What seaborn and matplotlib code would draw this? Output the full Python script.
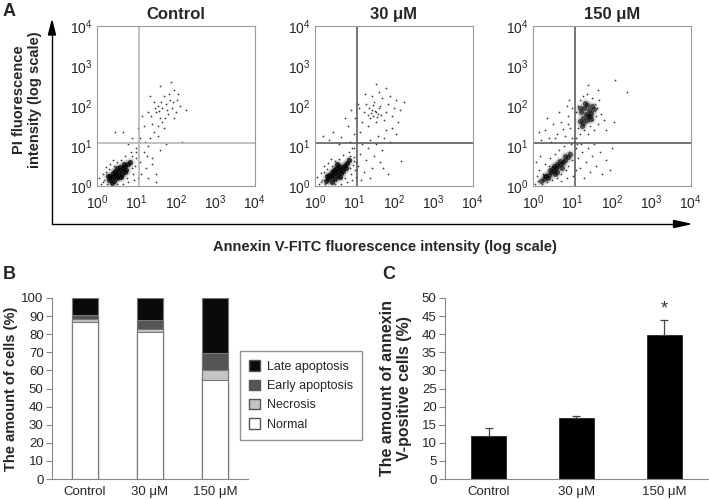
import numpy as np
import pandas as pd
import seaborn as sns
import matplotlib.pyplot as plt
from matplotlib.patches import Patch

sns.set_style("white")
plt.rcParams['font.family'] = ['Liberation Sans', 'DejaVu Sans']
plt.rcParams['mathtext.default'] = 'regular'

# ---- panel A: flow cytometry dots, log10 coordinates ----
# quadrant gate position (log10)
gate = 1.07

ctrl_core_x = [0.30, 0.36, 0.42, 0.48, 0.54, 0.60, 0.66, 0.72, 0.78, 0.40, 0.46, 0.52, 0.58,
               0.64, 0.70, 0.34, 0.50, 0.56, 0.62, 0.44, 0.38, 0.68, 0.74, 0.28, 0.84]
ctrl_core_y = [0.14, 0.20, 0.24, 0.30, 0.34, 0.40, 0.44, 0.50, 0.54, 0.32, 0.38, 0.44, 0.48,
               0.30, 0.36, 0.26, 0.20, 0.26, 0.22, 0.12, 0.08, 0.56, 0.40, 0.24, 0.60]
ctrl_dots_x = [0.10, 0.16, 0.22, 0.26, 0.34, 0.92, 0.96, 1.00, 0.86, 0.70, 0.60, 0.30, 0.18, 1.04,
               0.95, 0.80, 0.65, 0.06, 0.40, 0.76, 1.00, 0.90, 0.14, 0.24, 0.50, 0.88, 0.52, 0.44,
               1.10, 1.20, 1.30, 1.25, 1.40, 1.50, 1.35, 1.45, 1.55, 1.60, 1.50, 1.65, 1.75, 1.85,
               1.90, 1.80, 1.70, 1.95, 2.05, 1.45, 1.30, 1.20, 1.15, 1.55, 1.70, 1.95, 2.10, 2.25,
               2.15, 1.60, 1.75, 1.40, 1.10, 1.05, 1.35, 1.60, 1.88, 0.90, 0.65, 0.45, 0.80, 1.00,
               1.50, 1.30, 1.55, 1.78, 1.92, 1.65, 1.40, 2.00, 1.48, 1.58, 1.82, 1.12, 1.22, 1.62,
               2.02, 1.72, 1.38, 1.28]
ctrl_dots_y = [0.04, 0.30, 0.48, 0.04, 0.56, 0.30, 0.50, 0.70, 0.84, 0.74, 0.66, 0.42, 0.14, 0.20,
               0.14, 0.10, 0.04, 0.20, 0.66, 0.20, 0.94, 0.74, 0.10, 0.36, 0.60, 0.45, 0.06, 0.50,
               0.60, 0.85, 1.00, 0.45, 0.70, 0.30, 1.20, 1.35, 1.50, 1.70, 1.85, 1.95, 2.05, 2.15,
               1.95, 1.80, 2.25, 2.40, 2.30, 2.10, 1.85, 1.50, 1.75, 1.25, 1.45, 1.70, 2.00, 1.90,
               1.10, 0.90, 1.05, 0.55, 1.20, 1.45, 2.25, 2.50, 2.60, 1.20, 1.35, 1.35, 1.05, 0.85,
               0.10, 0.20, 2.00, 1.90, 2.10, 1.60, 1.55, 1.85, 1.95, 1.88, 2.30, 0.30, 1.10, 2.10,
               2.15, 1.70, 1.75, 0.75]

mid_core_x = [0.28, 0.34, 0.40, 0.46, 0.52, 0.58, 0.64, 0.70, 0.76, 0.82, 0.42, 0.48, 0.54,
              0.60, 0.66, 0.72, 0.36, 0.50, 0.58, 0.64, 0.44, 0.30, 0.78, 0.86, 0.56]
mid_core_y = [0.12, 0.18, 0.22, 0.28, 0.32, 0.38, 0.42, 0.48, 0.52, 0.58, 0.34, 0.40, 0.46,
              0.50, 0.32, 0.38, 0.28, 0.18, 0.24, 0.22, 0.10, 0.24, 0.44, 0.64, 0.54]
mid_dots_x = [0.10, 0.16, 0.22, 0.26, 0.34, 0.92, 0.96, 1.00, 0.86, 0.70, 0.60, 0.30, 0.18, 1.04,
              0.95, 0.80, 0.65, 0.06, 0.40, 0.76, 1.00, 0.90, 0.14, 0.24, 0.50, 0.88, 0.52, 0.44,
              0.98, 0.84, 1.02,
              1.10, 1.15, 1.20, 1.25, 1.30, 1.35, 1.40, 1.45, 1.50, 1.55, 1.60, 1.65, 1.70, 1.75,
              1.80, 1.85, 1.15, 1.20, 1.25, 1.30, 1.35, 1.40, 1.45, 1.50, 1.55, 1.60, 1.65, 1.70,
              1.75, 1.80, 1.85, 1.90, 1.95, 2.00, 2.05, 2.10, 2.15, 2.25, 1.42, 1.48, 1.52, 1.58,
              1.62, 1.38, 1.46, 1.56, 1.34, 1.68, 1.44, 1.62, 1.80, 1.55, 1.28, 1.12, 1.08, 1.95,
              2.05, 1.90, 1.72, 2.18, 1.40, 1.18, 0.20, 0.45, 0.65, 0.85, 0.92, 0.60, 0.75, 0.35,
              1.00, 1.02, 0.95, 0.88, 1.05]
mid_dots_y = [0.05, 0.32, 0.50, 0.04, 0.58, 0.30, 0.52, 0.72, 0.86, 0.78, 0.68, 0.42, 0.14, 0.22,
              0.14, 0.10, 0.04, 0.22, 0.68, 0.20, 0.96, 0.76, 0.10, 0.36, 0.62, 0.46, 0.06, 0.50,
              0.62, 0.70, 0.40,
              0.50, 0.80, 1.05, 0.35, 0.65, 0.95, 1.15, 0.45, 0.75, 1.05, 1.25, 0.60, 0.90, 1.20,
              1.40, 0.30, 1.35, 1.60, 1.85, 2.05, 1.50, 1.70, 1.90, 2.10, 1.60, 1.80, 2.00, 2.20,
              1.65, 1.85, 2.05, 2.25, 1.75, 1.95, 2.15, 1.60, 1.90, 2.10, 1.82, 1.76, 1.88, 1.72,
              1.94, 1.96, 2.02, 1.84, 1.78, 1.78, 2.25, 2.35, 2.45, 2.55, 2.30, 1.95, 2.05, 1.45,
              1.30, 1.10, 0.45, 0.62, 0.20, 0.15, 1.25, 1.35, 1.22, 1.50, 1.90, 1.05, 1.70, 1.15,
              1.30, 1.70, 0.95, 1.10, 0.60]

high_core_x = [0.20, 0.28, 0.34, 0.40, 0.46, 0.52, 0.58, 0.64, 0.70, 0.76, 0.82, 0.88, 0.94,
               0.44, 0.50, 0.56, 0.62, 0.68, 0.74, 0.38, 0.60, 0.30, 0.54, 0.80,
               1.18, 1.26, 1.34, 1.42, 1.50, 1.22, 1.30, 1.38, 1.46, 1.54, 1.28, 1.36, 1.44,
               1.20, 1.32, 1.40, 1.48, 1.24]
high_core_y = [0.12, 0.18, 0.24, 0.28, 0.34, 0.38, 0.44, 0.50, 0.54, 0.60, 0.66, 0.72, 0.80,
               0.40, 0.46, 0.30, 0.36, 0.62, 0.46, 0.20, 0.56, 0.26, 0.50, 0.74,
               1.62, 1.70, 1.80, 1.90, 2.00, 1.84, 1.94, 2.02, 1.82, 1.92, 1.58, 1.66, 1.74,
               1.96, 2.08, 1.76, 1.68, 1.50]
high_dots_x = [0.05, 0.10, 0.15, 0.22, 0.30, 0.35, 0.42, 0.48, 0.55, 0.60, 0.66, 0.72, 0.78, 0.84,
               0.90, 0.96, 1.00, 1.02, 0.08, 0.18, 0.26, 0.52, 0.64, 0.86, 0.70, 0.92, 0.40, 0.12,
               0.20, 0.30, 0.40, 0.50, 0.60, 0.70, 0.80, 0.90, 0.95, 0.65, 0.85, 1.00, 0.45, 0.75,
               0.55, 0.98, 0.15, 0.35, 0.88, 0.92,
               1.10, 1.15, 1.20, 1.25, 1.30, 1.35, 1.40, 1.45, 1.50, 1.55, 1.60, 1.65, 1.10, 1.15,
               1.20, 1.28, 1.38, 1.50, 1.58, 1.62, 1.68, 1.72, 1.80, 1.85, 1.10, 1.15, 1.20, 1.25,
               1.30, 1.35, 1.40, 1.45, 1.50, 1.55, 1.60, 1.70, 1.75, 1.85, 1.95, 2.00, 1.08, 1.12,
               1.22, 1.65, 2.05, 2.38, 2.09, 1.40]
high_dots_y = [0.05, 0.25, 0.40, 0.05, 0.55, 0.10, 0.70, 0.15, 0.80, 0.20, 0.90, 0.30, 1.00, 0.40,
               0.50, 1.05, 0.65, 0.25, 0.60, 0.75, 0.30, 0.28, 0.66, 0.20, 0.12, 0.85, 0.50, 0.12,
               1.15, 1.40, 1.20, 1.55, 1.30, 1.60, 1.25, 1.75, 1.45, 1.85, 2.00, 1.95, 1.10, 1.42,
               1.20, 1.20, 1.35, 1.70, 1.55, 2.15,
               1.20, 1.45, 1.30, 1.55, 1.40, 1.60, 1.30, 1.50, 1.65, 1.40, 1.75, 1.55, 1.85, 2.00,
               2.15, 2.25, 2.30, 2.20, 2.05, 1.95, 2.15, 1.80, 1.65, 1.40, 0.95, 0.70, 0.45, 0.85,
               0.20, 0.60, 0.95, 0.35, 0.75, 1.05, 0.50, 0.85, 0.30, 0.65, 0.40, 0.95, 0.40, 1.05,
               1.05, 2.40, 1.60, 2.36, 2.65, 2.52]

panels = ["Control", "30 μM", "150 μM"]
core_x = [ctrl_core_x, mid_core_x, high_core_x]
core_y = [ctrl_core_y, mid_core_y, high_core_y]
dots_x = [ctrl_dots_x, mid_dots_x, high_dots_x]
dots_y = [ctrl_dots_y, mid_dots_y, high_dots_y]
gate_colors = ["#b0b0b0", "#505050", "#505050"]
core_alpha = [0.75, 0.75, 0.6]

# ---- panel B: stacked percentages ----
groups = ["Control", "30 μM", "150 μM"]
normal = [87.0, 81.0, 54.5]
necrosis = [1.2, 2.0, 5.5]
early_apoptosis = [2.6, 5.0, 9.5]
late_apoptosis = [9.2, 12.0, 30.5]

# ---- panel C: annexin V-positive cells ----
annexin_pos = [12.0, 16.8, 39.9]
annexin_err = [2.0, 0.7, 4.0]

fig = plt.figure(figsize=(7.09, 5.0), dpi=100)

scatter_left = [0.1368, 0.4443, 0.7518]
for i, name in enumerate(panels):
    ax = fig.add_axes([scatter_left[i], 0.628, 0.2222, 0.32])
    cx = 10 ** np.array(core_x[i])
    cy = 10 ** np.array(core_y[i])
    # faint halo then dark centre so the dense population reads as a blob
    sns.scatterplot(x=cx, y=cy, ax=ax, s=45, color="#555555", alpha=0.18, linewidth=0,
                    legend=False)
    sns.scatterplot(x=cx, y=cy, ax=ax, s=14, color="black", alpha=core_alpha[i], linewidth=0,
                    legend=False)
    sns.scatterplot(x=10 ** np.array(dots_x[i]), y=10 ** np.array(dots_y[i]), ax=ax,
                    s=1.6, color="#3a3a3a", linewidth=0, legend=False)
    ax.set_xscale("log")
    ax.set_yscale("log")
    ax.set_xlim(1, 1e4)
    ax.set_ylim(1, 1e4)
    ax.set_xticks([1, 10, 100, 1000, 10000])
    ax.set_yticks([1, 10, 100, 1000, 10000])
    ax.axvline(10 ** gate, color=gate_colors[i], lw=1.1)
    ax.axhline(10 ** gate, color=gate_colors[i], lw=1.1)
    for sp in ax.spines.values():
        sp.set_color("#9a9a9a")
        sp.set_linewidth(0.8)
    ax.tick_params(which="both", direction="in", color="#9a9a9a", labelsize=10)
    ax.tick_params(axis="x", pad=5)
    ax.tick_params(axis="y", pad=3)
    ax.tick_params(which="major", length=3)
    ax.tick_params(which="minor", length=1.5)
    ax.set_title(name, fontsize=12, fontweight="bold", pad=5)

fig.text(0.004, 0.995, "A", fontsize=13, fontweight="bold", va="top")
fig.text(0.004, 0.468, "B", fontsize=13, fontweight="bold", va="top")
fig.text(0.539, 0.468, "C", fontsize=13, fontweight="bold", va="top")

# big arrows for panel A axes
fig.add_artist(plt.Line2D([0.0733, 0.0733], [0.552, 0.93], color="black", lw=1))
fig.add_artist(plt.Line2D([0.0733, 0.95], [0.552, 0.552], color="black", lw=1))
fig.patches.append(plt.Polygon([[0.0733, 0.958], [0.0683, 0.93], [0.0783, 0.93]],
                               closed=True, color="black", transform=fig.transFigure, figure=fig))
fig.patches.append(plt.Polygon([[0.973, 0.552], [0.95, 0.545], [0.95, 0.559]],
                               closed=True, color="black", transform=fig.transFigure, figure=fig))
fig.text(0.038, 0.80, "PI fluorescence\nintensity (log scale)", rotation=90, ha="center",
         va="center", fontsize=10.5, fontweight="bold", linespacing=1.2)
fig.text(0.543, 0.506, "Annexin V-FITC fluorescence intensity (log scale)", ha="center",
         va="center", fontsize=10.5, fontweight="bold")

# ---- B ----
axb = fig.add_axes([0.0733, 0.042, 0.2764, 0.362])
df = pd.DataFrame({"group": groups, "normal": normal, "necrosis": necrosis,
                   "early": early_apoptosis, "late": late_apoptosis})
df["c1"] = df["normal"]
df["c2"] = df["c1"] + df["necrosis"]
df["c3"] = df["c2"] + df["early"]
df["c4"] = df["c3"] + df["late"]
layers = [("c4", "#0a0a0a", "Late apoptosis"), ("c3", "#555555", "Early apoptosis"),
          ("c2", "#c4c4c4", "Necrosis"), ("c1", "white", "Normal")]
for col, colr, lab in layers:
    sns.barplot(data=df, x="group", y=col, color=colr, width=0.4, ax=axb,
                edgecolor="#777777", linewidth=0.8, saturation=1)
axb.set_ylim(0, 100)
axb.set_xlim(-0.5, 2.5)
axb.set_yticks(range(0, 101, 10))
axb.set_xlabel("")
axb.set_ylabel("The amount of cells (%)", fontsize=10.5, fontweight="bold")
axb.yaxis.set_label_coords(-0.173, 0.5)
handles = [Patch(facecolor=c, edgecolor="#555555", label=l) for _, c, l in layers]
fig.legend(handles=handles, loc="center", bbox_to_anchor=(0.4245, 0.209),
           bbox_transform=fig.transFigure, fontsize=9, frameon=True, fancybox=False,
           edgecolor="#777777", handlelength=0.9, handleheight=0.9, handletextpad=0.6,
           borderpad=0.7, labelspacing=0.55)

# ---- C ----
axc = fig.add_axes([0.6276, 0.042, 0.371, 0.362])
dfc = pd.DataFrame({"group": groups, "pos": annexin_pos, "err": annexin_err})
sns.barplot(data=dfc, x="group", y="pos", color="black", width=0.4, ax=axc, saturation=1,
            edgecolor="#222222", linewidth=0.6)
axc.errorbar(x=range(len(groups)), y=dfc["pos"], yerr=[np.zeros(len(groups)), dfc["err"]],
             fmt="none", ecolor="#444444", elinewidth=0.9, capsize=3, capthick=0.9)
axc.text(2, annexin_pos[2] + annexin_err[2] + 0.6, "*", ha="center", va="bottom",
         fontsize=13, color="#333333")
axc.set_ylim(0, 50)
axc.set_xlim(-0.5, 2.5)
axc.set_yticks(range(0, 51, 5))
axc.set_xlabel("")
axc.set_ylabel("The amount of annexin\nV-positive cells (%)", fontsize=11.5,
               fontweight="bold", linespacing=1.1)
axc.yaxis.set_label_coords(-0.127, 0.5)

for ax in (axb, axc):
    sns.despine(ax=ax)
    ax.spines["left"].set_color("#888888")
    ax.spines["bottom"].set_color("#888888")
    ax.set_xticks([-0.5, 0.5, 1.5, 2.5], minor=True)
    ax.tick_params(axis="x", which="major", length=0, labelsize=9.5, pad=5)
    ax.tick_params(axis="x", which="minor", length=4, color="#888888")
    ax.tick_params(axis="y", length=4, color="#888888", labelsize=9.5, left=True, pad=2)

fig.savefig("out.png", dpi=100)
